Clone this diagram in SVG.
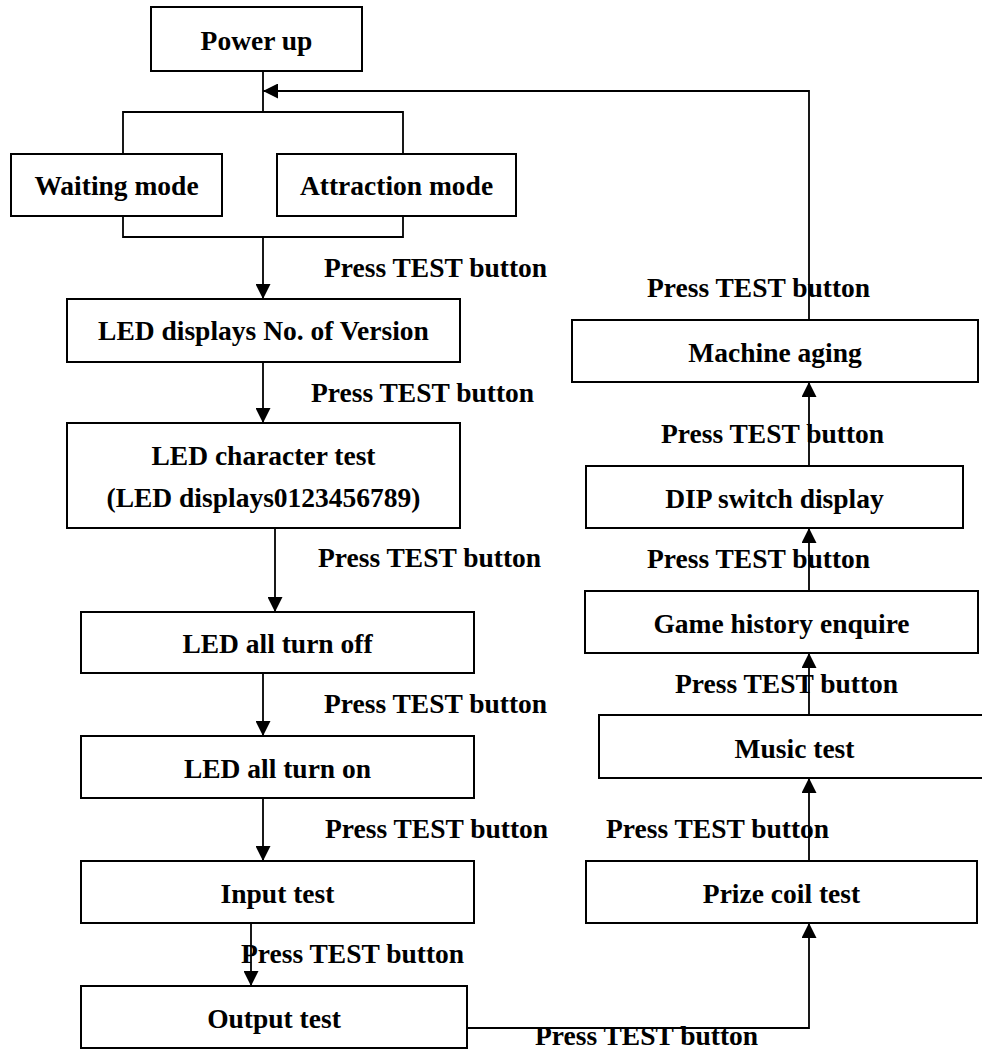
<svg xmlns="http://www.w3.org/2000/svg" width="982" height="1050" viewBox="0 0 982 1050">
<defs>
<marker id="arr" markerUnits="userSpaceOnUse" markerWidth="15" markerHeight="15" refX="15" refY="7.5" orient="auto">
<path d="M0,0 L15,7.5 L0,15 z" fill="#000"/>
</marker>
<style>
.box{fill:#fff;stroke:#000;stroke-width:2}
.t{font-family:"Liberation Serif","Times New Roman",serif;font-weight:bold;font-size:27.5px;fill:#000}
.c{text-anchor:middle}
.ln{fill:none;stroke:#000;stroke-width:1.8}
</style>
</defs>
<rect width="982" height="1050" fill="#fff"/>
<g id="connectors">
<path class="ln" d="M263,71 V112 M123,154 V112 H403 V154"/>
<path class="ln" d="M123,216 V237 H403 V216"/>
<path class="ln" d="M263,237 V299" marker-end="url(#arr)"/>
<path class="ln" d="M263,362 V423" marker-end="url(#arr)"/>
<path class="ln" d="M275,528 V612" marker-end="url(#arr)"/>
<path class="ln" d="M263,673 V736" marker-end="url(#arr)"/>
<path class="ln" d="M263,798 V861" marker-end="url(#arr)"/>
<path class="ln" d="M251,923 V986" marker-end="url(#arr)"/>
<path class="ln" d="M467,1028 H809 V923" marker-end="url(#arr)"/>
<path class="ln" d="M809,861 V778" marker-end="url(#arr)"/>
<path class="ln" d="M809,715 V653" marker-end="url(#arr)"/>
<path class="ln" d="M809,591 V528" marker-end="url(#arr)"/>
<path class="ln" d="M809,466 V382" marker-end="url(#arr)"/>
<path class="ln" d="M809,320 V91 H263" marker-end="url(#arr)"/>
</g>
<g id="labels">
<text class="t" x="324" y="277">Press TEST button</text>
<text class="t" x="311" y="402">Press TEST button</text>
<text class="t" x="318" y="567">Press TEST button</text>
<text class="t" x="324" y="713">Press TEST button</text>
<text class="t" x="325" y="838">Press TEST button</text>
<text class="t" x="241" y="963">Press TEST button</text>
<text class="t" x="535" y="1045">Press TEST button</text>
<text class="t" x="606" y="838">Press TEST button</text>
<text class="t" x="675" y="693">Press TEST button</text>
<text class="t" x="647" y="568">Press TEST button</text>
<text class="t" x="661" y="443">Press TEST button</text>
<text class="t" x="647" y="297">Press TEST button</text>
</g>
<g id="power-up"><rect class="box" x="151" y="7" width="211" height="64"/><text class="t c" x="256.5" y="50">Power up</text></g>
<g id="waiting-mode"><rect class="box" x="11" y="154" width="211" height="62"/><text class="t c" x="116.5" y="195">Waiting mode</text></g>
<g id="attraction-mode"><rect class="box" x="277" y="154" width="239" height="62"/><text class="t c" x="396.5" y="195">Attraction mode</text></g>
<g id="led-version"><rect class="box" x="67" y="299" width="393" height="63"/><text class="t c" x="263.5" y="340">LED displays No. of Version</text></g>
<g id="led-character"><rect class="box" x="67" y="423" width="393" height="105"/><text class="t c" x="263.5" y="465">LED character test</text><text class="t c" x="263.5" y="507">(LED displays0123456789)</text></g>
<g id="led-off"><rect class="box" x="81" y="612" width="393" height="61"/><text class="t c" x="277.5" y="653">LED all turn off</text></g>
<g id="led-on"><rect class="box" x="81" y="736" width="393" height="62"/><text class="t c" x="277.5" y="778">LED all turn on</text></g>
<g id="input-test"><rect class="box" x="81" y="861" width="393" height="62"/><text class="t c" x="277.5" y="903">Input test</text></g>
<g id="output-test"><rect class="box" x="81" y="986" width="386" height="62"/><text class="t c" x="274" y="1028">Output test</text></g>
<g id="prize-coil"><rect class="box" x="586" y="861" width="391" height="62"/><text class="t c" x="781.5" y="903">Prize coil test</text></g>
<g id="music-test"><rect class="box" x="599" y="715" width="391" height="63"/><text class="t c" x="794.5" y="758">Music test</text></g>
<g id="game-history"><rect class="box" x="585" y="591" width="393" height="62"/><text class="t c" x="781.5" y="633">Game history enquire</text></g>
<g id="dip-switch"><rect class="box" x="586" y="466" width="377" height="62"/><text class="t c" x="774.5" y="508">DIP switch display</text></g>
<g id="machine-aging"><rect class="box" x="572" y="320" width="406" height="62"/><text class="t c" x="775" y="362">Machine aging</text></g>
</svg>
